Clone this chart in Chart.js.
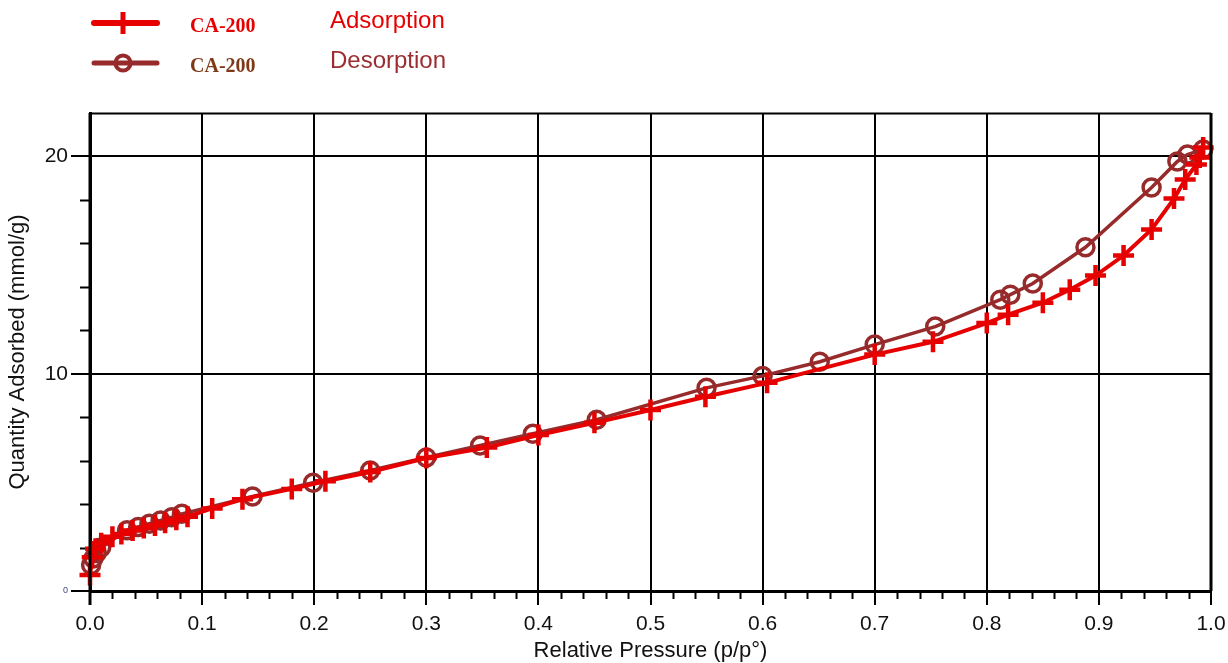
<!DOCTYPE html>
<html>
<head>
<meta charset="utf-8">
<script src="https://cdn.jsdelivr.net/npm/chart.js@4/dist/chart.umd.min.js"></script>
<style>
  html, body { margin: 0; padding: 0; background: #ffffff; }
  #wrap { width: 1228px; height: 663px; position: relative; }
  canvas { display: block; }
</style>
</head>
<body>
<div id="wrap"><canvas id="iso" width="1228" height="663"></canvas></div>
<script>
// Isotherm data for CA-200 (relative pressure p/p°, quantity adsorbed mmol/g)
const adsPressure = [0.000, 0.002, 0.005, 0.010, 0.020, 0.028, 0.038, 0.048, 0.058, 0.067, 0.077, 0.087,
  0.109, 0.136, 0.180, 0.210, 0.250, 0.300, 0.354, 0.400, 0.450, 0.500, 0.549, 0.604,
  0.700, 0.752, 0.800, 0.819, 0.850, 0.874, 0.897, 0.922, 0.947, 0.967, 0.977, 0.987, 0.990, 0.993];
const adsQuantity = [0.74, 1.55, 1.95, 2.20, 2.50, 2.62, 2.78, 2.90, 3.02, 3.14, 3.28, 3.42,
  3.80, 4.22, 4.70, 5.05, 5.48, 6.12, 6.60, 7.18, 7.74, 8.33, 8.94, 9.58,
  10.88, 11.47, 12.33, 12.72, 13.27, 13.87, 14.52, 15.44, 16.64, 18.06, 18.94, 19.63, 19.95, 20.41];

const desPressure = [0.993, 0.979, 0.970, 0.947, 0.888, 0.841, 0.821, 0.812, 0.754, 0.700, 0.651, 0.600,
  0.550, 0.452, 0.395, 0.348, 0.300, 0.250, 0.199, 0.145, 0.082, 0.073, 0.063, 0.053, 0.043, 0.033,
  0.010, 0.006, 0.003, 0.001];
const desQuantity = [20.32, 20.09, 19.77, 18.57, 15.82, 14.15, 13.64, 13.41, 12.17, 11.34, 10.55, 9.90,
  9.35, 7.88, 7.24, 6.70, 6.15, 5.55, 4.98, 4.35, 3.55, 3.40, 3.25, 3.10, 2.95, 2.80,
  2.00, 1.75, 1.50, 1.20];

const xTickValues = [0, 0.1, 0.2, 0.3, 0.4, 0.5, 0.6, 0.7, 0.8, 0.9, 1.0];
const xTickLabels = ['0.0', '0.1', '0.2', '0.3', '0.4', '0.5', '0.6', '0.7', '0.8', '0.9', '1.0'];
const yTickValues = [0, 10, 20];
const yTickLabels = ['0', '10', '20'];

const sampleNames = ['CA-200', 'CA-200'];
const branchNames = ['Adsorption', 'Desorption'];

const ADS_COLOR = '#e60000';
const DES_COLOR = '#972a2a';
const SANS = "'Liberation Sans', Arial, sans-serif";
const SERIF = "'Liberation Serif', 'Times New Roman', serif";

function toPoints(xs, ys) { return xs.map((x, i) => ({ x: x, y: ys[i] })); }

// Minor tick marks along both axes, plus the top/right frame of the plot box
const axisDecor = {
  id: 'axisDecor',
  beforeDatasetsDraw(chart) {
    const { ctx, chartArea: a, scales: { x, y } } = chart;
    ctx.save();
    ctx.strokeStyle = '#000';
    ctx.lineWidth = 2;
    ctx.beginPath();
    for (let k = 1; k < 50; k++) {
      if (k % 5 === 0) continue;
      const px = Math.round(x.getPixelForValue(k / 50)) + 0.5;
      ctx.moveTo(px, a.bottom);
      ctx.lineTo(px, a.bottom + 8);
    }
    for (let k = 1; k <= 10; k++) {
      if (k % 5 === 0) continue;
      const py = Math.round(y.getPixelForValue(k * 2)) + 0.5;
      ctx.moveTo(a.left - 10, py);
      ctx.lineTo(a.left, py);
    }
    ctx.stroke();
    ctx.restore();
  },
  afterDatasetsDraw(chart) {
    const { ctx, chartArea: a } = chart;
    ctx.save();
    ctx.strokeStyle = '#000';
    ctx.lineWidth = 2;
    ctx.beginPath();
    ctx.moveTo(a.left, a.top + 0.5);
    ctx.lineTo(a.right, a.top + 0.5);
    ctx.stroke();
    ctx.lineWidth = 3;
    ctx.beginPath();
    ctx.moveTo(a.right, a.top);
    ctx.lineTo(a.right, a.bottom);
    ctx.moveTo(a.left, a.top);
    ctx.lineTo(a.left, a.bottom + 14);
    ctx.stroke();
    ctx.restore();
  }
};

// Legend block above the plot: line sample with marker, sample name, branch name
const isoLegend = {
  id: 'isoLegend',
  afterDraw(chart) {
    const { ctx } = chart;
    const rows = [
      { y: 23, color: ADS_COLOR, nameColor: '#e60000', textColor: '#e60000', marker: 'cross', lw: 6 },
      { y: 63, color: DES_COLOR, nameColor: '#7e3a16', textColor: '#9b2d30', marker: 'circle', lw: 5 }
    ];
    ctx.save();
    rows.forEach((r, i) => {
      ctx.strokeStyle = r.color;
      ctx.lineCap = 'round';
      ctx.lineWidth = r.lw;
      ctx.beginPath();
      ctx.moveTo(94, r.y);
      ctx.lineTo(157, r.y);
      ctx.stroke();
      ctx.lineCap = 'butt';
      if (r.marker === 'cross') {
        ctx.lineWidth = 5;
        ctx.beginPath();
        ctx.moveTo(123, r.y - 11);
        ctx.lineTo(123, r.y + 11);
        ctx.stroke();
      } else {
        ctx.lineWidth = 4;
        ctx.beginPath();
        ctx.arc(123, r.y, 7.5, 0, Math.PI * 2);
        ctx.fillStyle = '#fff';
        ctx.fill();
        ctx.stroke();
        ctx.beginPath();
        ctx.moveTo(116, r.y);
        ctx.lineTo(130, r.y);
        ctx.lineWidth = r.lw;
        ctx.stroke();
      }
      ctx.textBaseline = 'alphabetic';
      ctx.textAlign = 'left';
      ctx.font = 'bold 20px ' + SERIF;
      ctx.fillStyle = r.nameColor;
      ctx.fillText(sampleNames[i], 190, r.y + 9);
      ctx.font = '24px ' + SANS;
      ctx.fillStyle = r.textColor;
      ctx.fillText(branchNames[i], 330, r.y + 5);
    });
    ctx.restore();
  }
};

new Chart(document.getElementById('iso'), {
  type: 'scatter',
  data: {
    datasets: [
      {
        label: 'Adsorption',
        data: toPoints(adsPressure, adsQuantity),
        showLine: true,
        borderColor: ADS_COLOR,
        backgroundColor: ADS_COLOR,
        borderWidth: 4,
        pointStyle: 'cross',
        pointRadius: 10.5,
        pointBorderWidth: 4.5,
        pointBorderColor: ADS_COLOR,
        tension: 0,
        clip: false
      },
      {
        label: 'Desorption',
        data: toPoints(desPressure, desQuantity),
        showLine: true,
        borderColor: DES_COLOR,
        backgroundColor: 'rgba(0,0,0,0)',
        borderWidth: 3.5,
        pointStyle: 'circle',
        pointRadius: 8.5,
        pointBorderWidth: 3.5,
        pointBorderColor: DES_COLOR,
        pointBackgroundColor: 'rgba(0,0,0,0)',
        tension: 0,
        clip: false
      }
    ]
  },
  options: {
    responsive: false,
    animation: false,
    devicePixelRatio: 1,
    layout: { padding: { top: 113, right: 17, left: 0, bottom: 0 } },
    plugins: { legend: { display: false }, tooltip: { enabled: false } },
    scales: {
      x: {
        type: 'linear',
        min: 0,
        max: 1,
        afterBuildTicks: s => { s.ticks = xTickValues.map(v => ({ value: v })); },
        afterFit: s => { s.height = 72; s.paddingLeft = 0; s.paddingRight = 0; },
        ticks: {
          callback: v => xTickLabels[xTickValues.indexOf(v)],
          font: { family: SANS, size: 21 },
          color: '#111',
          padding: 7,
          maxRotation: 0,
          autoSkip: false
        },
        grid: { color: '#000', lineWidth: 2, tickLength: 14, tickColor: '#000', tickWidth: 2 },
        border: { display: true, color: '#000', width: 3 },
        title: {
          display: true,
          text: 'Relative Pressure (p/p°)',
          font: { family: SANS, size: 22 },
          color: '#111',
          padding: { top: 0, bottom: -1 }
        }
      },
      y: {
        type: 'linear',
        min: 0,
        max: 22,
        afterBuildTicks: s => { s.ticks = yTickValues.map(v => ({ value: v })); },
        afterFit: s => { s.width = 90; s.paddingTop = 0; s.paddingBottom = 0; },
        ticks: {
          callback: v => yTickLabels[yTickValues.indexOf(v)],
          font: c => (c.tick && c.tick.value === 0) ? { family: SANS, size: 9 } : { family: SANS, size: 21 },
          color: c => (c.tick && c.tick.value === 0) ? '#3b4a7a' : '#111',
          padding: 3
        },
        grid: { color: '#000', lineWidth: 2, tickLength: 19, tickColor: '#000', tickWidth: 2 },
        border: { display: true, color: '#000', width: 3 },
        title: {
          display: true,
          text: 'Quantity Adsorbed (mmol/g)',
          font: { family: SANS, size: 22 },
          color: '#111',
          padding: { top: 5, bottom: 0 }
        }
      }
    }
  },
  plugins: [axisDecor, isoLegend]
});
</script>
</body>
</html>
